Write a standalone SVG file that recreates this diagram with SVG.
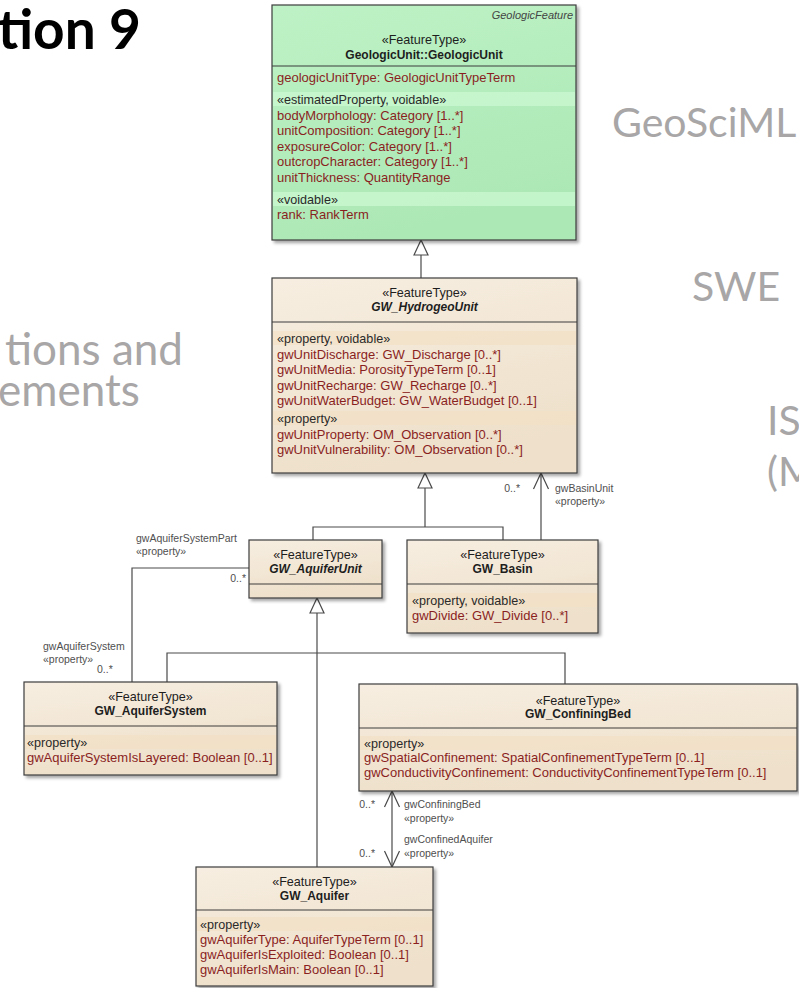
<svg xmlns="http://www.w3.org/2000/svg" width="799" height="988" viewBox="0 0 799 988">
  <defs>
    <linearGradient id="tanFill" x1="0" y1="0" x2="0.3" y2="1">
      <stop offset="0" stop-color="#f7eee1"/>
      <stop offset="1" stop-color="#eee0ca"/>
    </linearGradient>
    <linearGradient id="greenFill" x1="0" y1="0" x2="0.3" y2="1">
      <stop offset="0" stop-color="#bef2c6"/>
      <stop offset="1" stop-color="#ace8b5"/>
    </linearGradient>
    <filter id="shadow" x="-5%" y="-5%" width="115%" height="115%">
      <feDropShadow dx="2.5" dy="2.5" stdDeviation="1.6" flood-color="#000" flood-opacity="0.35"/>
    </filter>
    <!-- hollow generalization triangle -->
    <marker id="genTri" markerUnits="userSpaceOnUse" markerWidth="18" markerHeight="16" refX="16" refY="7.5" orient="auto" overflow="visible">
      <path d="M1,0.5 L16,7.5 L1,14.5 Z" fill="#fff" stroke="#4a4a4a" stroke-width="1.2"/>
    </marker>
    <!-- open navigability arrow -->
    <marker id="openArrow" markerUnits="userSpaceOnUse" markerWidth="18" markerHeight="18" refX="16" refY="8" orient="auto-start-reverse" overflow="visible">
      <path d="M0,0.5 L16,8 L0,15.5" fill="none" stroke="#4a4a4a" stroke-width="1.2"/>
    </marker>
  </defs>
  <style>
    .box{stroke:#3d3d3d;stroke-width:1.2}
    .sep{stroke:#3d3d3d;stroke-width:1.1}
    .gband{fill:#c9f7cf;opacity:0.8}
    .tband{fill:#f3dfc3;opacity:0.6}
    text{font-family:"Liberation Sans",Arial,Helvetica,sans-serif}
    .st{font-size:12.6px;fill:#1e1e1e;text-anchor:middle}
    .nm{font-size:12px;font-weight:bold;fill:#1e1e1e;text-anchor:middle}
    .ab{font-style:italic}
    .sl{font-size:12.6px;fill:#2a2a2a}
    .at{font-size:13px;fill:#8a1f1f}
    .lbl{font-size:10.5px;fill:#4f4f4f}
    .conn{stroke:#4a4a4a;stroke-width:1.2;fill:none}
    .slide{font-family:Lato,"Open Sans",sans-serif;font-size:41px;fill:#a8a6a6}
    .slideL{font-family:Lato,"Open Sans",sans-serif;font-size:44px;fill:#a8a6a6}
    .title{font-family:Lato,"Open Sans",sans-serif;font-size:55px;font-weight:bold;fill:#000}
  </style>

  <rect width="799" height="988" fill="#fff"/>

  <!-- slide text around the model -->
  <g id="slide-text">
    <text class="title" x="141" y="49" text-anchor="end">tion 9</text>
    <text class="slide" x="612" y="137">GeoSciML</text>
    <text class="slide" x="692" y="301">SWE</text>
    <text class="slide" x="767" y="435">IS</text>
    <text class="slide" x="767" y="486">(M</text>
    <text class="slideL" x="183" y="365" text-anchor="end">tions and</text>
    <text class="slideL" x="-2" y="406">ements</text>
  </g>

  <!-- connectors -->
  <g id="connectors">
    <!-- generalizations -->
    <line class="conn" x1="421" y1="278" x2="421" y2="240" marker-end="url(#genTri)"/>
    <path class="conn" d="M313,540 V527 H503 V540"/>
    <line class="conn" x1="425" y1="527" x2="425" y2="473" marker-end="url(#genTri)"/>
    <path class="conn" d="M167,682 V653 H565 V684"/>
    <line class="conn" x1="317" y1="867" x2="317" y2="598" marker-end="url(#genTri)"/>
    <!-- associations -->
    <path class="conn" d="M249,568 H132 V682"/>
    <line class="conn" x1="541" y1="540" x2="541" y2="473" marker-end="url(#openArrow)"/>
    <line class="conn" x1="392" y1="791" x2="392" y2="867" marker-start="url(#openArrow)" marker-end="url(#openArrow)"/>
    <!-- role labels -->
    <text class="lbl" x="520" y="491.5" text-anchor="end">0..*</text>
    <text class="lbl" x="555" y="491.5">gwBasinUnit</text>
    <text class="lbl" x="555" y="505">«property»</text>
    <text class="lbl" x="136" y="542">gwAquiferSystemPart</text>
    <text class="lbl" x="136" y="555">«property»</text>
    <text class="lbl" x="246" y="581.5" text-anchor="end">0..*</text>
    <text class="lbl" x="43" y="650">gwAquiferSystem</text>
    <text class="lbl" x="43" y="663">«property»</text>
    <text class="lbl" x="97" y="672.5">0..*</text>
    <text class="lbl" x="375" y="807.5" text-anchor="end">0..*</text>
    <text class="lbl" x="404" y="807.5">gwConfiningBed</text>
    <text class="lbl" x="404" y="822">«property»</text>
    <text class="lbl" x="404" y="843">gwConfinedAquifer</text>
    <text class="lbl" x="404" y="857">«property»</text>
    <text class="lbl" x="375" y="857" text-anchor="end">0..*</text>
  </g>

  <!-- GeologicUnit (GeoSciML) -->
  <g id="GeologicUnit">
    <rect class="box" x="272" y="5" width="304" height="235" fill="url(#greenFill)" filter="url(#shadow)"/>
    <rect class="gband" x="273" y="92" width="302" height="14"/>
    <rect class="gband" x="273" y="192" width="302" height="14"/>
    <line class="sep" x1="272" y1="66" x2="576" y2="66"/>
    <text x="573" y="19" font-size="11" font-style="italic" fill="#444" text-anchor="end">GeologicFeature</text>
    <text class="st" x="424" y="44">«FeatureType»</text>
    <text class="nm" x="424" y="59">GeologicUnit::GeologicUnit</text>
    <text class="at" x="277" y="81.5">geologicUnitType: GeologicUnitTypeTerm</text>
    <text class="sl" x="277" y="103.5">«estimatedProperty, voidable»</text>
    <text class="at" x="277" y="119.5">bodyMorphology: Category [1..*]</text>
    <text class="at" x="277" y="135">unitComposition: Category [1..*]</text>
    <text class="at" x="277" y="150.5">exposureColor: Category [1..*]</text>
    <text class="at" x="277" y="166">outcropCharacter: Category [1..*]</text>
    <text class="at" x="277" y="181.5">unitThickness: QuantityRange</text>
    <text class="sl" x="277" y="203.5">«voidable»</text>
    <text class="at" x="277" y="218.5">rank: RankTerm</text>
  </g>

  <!-- GW_HydrogeoUnit -->
  <g id="GW_HydrogeoUnit">
    <rect class="box" x="272" y="278" width="305" height="195" fill="url(#tanFill)" filter="url(#shadow)"/>
    <rect class="tband" x="273" y="331" width="303" height="14"/>
    <rect class="tband" x="273" y="411" width="303" height="14"/>
    <line class="sep" x1="272" y1="322" x2="577" y2="322"/>
    <text class="st" x="424.5" y="296.5">«FeatureType»</text>
    <text class="nm ab" x="424.5" y="311">GW_HydrogeoUnit</text>
    <text class="sl" x="277" y="342.5">«property, voidable»</text>
    <text class="at" x="277" y="358.5">gwUnitDischarge: GW_Discharge [0..*]</text>
    <text class="at" x="277" y="373.5">gwUnitMedia: PorosityTypeTerm [0..1]</text>
    <text class="at" x="277" y="389.5">gwUnitRecharge: GW_Recharge [0..*]</text>
    <text class="at" x="277" y="404.5">gwUnitWaterBudget: GW_WaterBudget [0..1]</text>
    <text class="sl" x="277" y="422.5">«property»</text>
    <text class="at" x="277" y="438.5">gwUnitProperty: OM_Observation [0..*]</text>
    <text class="at" x="277" y="453.5">gwUnitVulnerability: OM_Observation [0..*]</text>
  </g>

  <!-- GW_AquiferUnit -->
  <g id="GW_AquiferUnit">
    <rect class="box" x="249" y="540" width="133" height="58" fill="url(#tanFill)" filter="url(#shadow)"/>
    <line class="sep" x1="249" y1="584" x2="382" y2="584"/>
    <text class="st" x="315.5" y="558.5">«FeatureType»</text>
    <text class="nm ab" x="315.5" y="573">GW_AquiferUnit</text>
  </g>

  <!-- GW_Basin -->
  <g id="GW_Basin">
    <rect class="box" x="407" y="540" width="191" height="93" fill="url(#tanFill)" filter="url(#shadow)"/>
    <rect class="tband" x="408" y="593" width="189" height="14"/>
    <line class="sep" x1="407" y1="584" x2="598" y2="584"/>
    <text class="st" x="502.5" y="558.5">«FeatureType»</text>
    <text class="nm" x="502.5" y="573">GW_Basin</text>
    <text class="sl" x="412" y="604.5">«property, voidable»</text>
    <text class="at" x="412" y="619.5">gwDivide: GW_Divide [0..*]</text>
  </g>

  <!-- GW_AquiferSystem -->
  <g id="GW_AquiferSystem">
    <rect class="box" x="24" y="682" width="253" height="93" fill="url(#tanFill)" filter="url(#shadow)"/>
    <rect class="tband" x="25" y="735" width="251" height="14"/>
    <line class="sep" x1="24" y1="726" x2="277" y2="726"/>
    <text class="st" x="150.5" y="700.5">«FeatureType»</text>
    <text class="nm" x="150.5" y="715">GW_AquiferSystem</text>
    <text class="sl" x="27" y="746.5">«property»</text>
    <text class="at" x="27" y="761.5">gwAquiferSystemIsLayered: Boolean [0..1]</text>
  </g>

  <!-- GW_ConfiningBed -->
  <g id="GW_ConfiningBed">
    <rect class="box" x="359" y="684" width="438" height="107" fill="url(#tanFill)" filter="url(#shadow)"/>
    <rect class="tband" x="360" y="736" width="436" height="14"/>
    <line class="sep" x1="359" y1="728" x2="797" y2="728"/>
    <text class="st" x="578" y="704.5">«FeatureType»</text>
    <text class="nm" x="578" y="718">GW_ConfiningBed</text>
    <text class="sl" x="364" y="747.5">«property»</text>
    <text class="at" x="364" y="761.5">gwSpatialConfinement: SpatialConfinementTypeTerm [0..1]</text>
    <text class="at" x="364" y="776.5">gwConductivityConfinement: ConductivityConfinementTypeTerm [0..1]</text>
  </g>

  <!-- GW_Aquifer -->
  <g id="GW_Aquifer">
    <rect class="box" x="196" y="867" width="237" height="119" fill="url(#tanFill)" filter="url(#shadow)"/>
    <rect class="tband" x="197" y="917" width="235" height="14"/>
    <line class="sep" x1="196" y1="910" x2="433" y2="910"/>
    <text class="st" x="314.5" y="885.5">«FeatureType»</text>
    <text class="nm" x="314.5" y="900">GW_Aquifer</text>
    <text class="sl" x="200" y="928.5">«property»</text>
    <text class="at" x="200" y="943.5">gwAquiferType: AquiferTypeTerm [0..1]</text>
    <text class="at" x="200" y="958.5">gwAquiferIsExploited: Boolean [0..1]</text>
    <text class="at" x="200" y="973.5">gwAquiferIsMain: Boolean [0..1]</text>
  </g>
</svg>
